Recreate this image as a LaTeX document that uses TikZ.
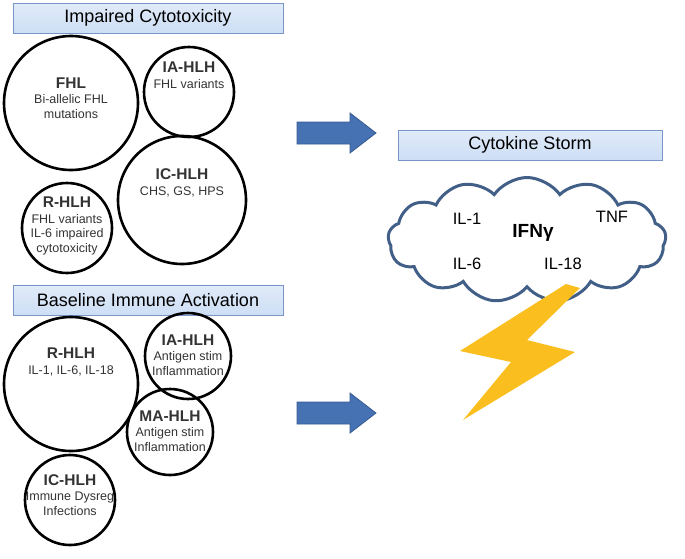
\documentclass[tikz,border=0pt]{standalone}
\usepackage{fontspec}
\setmainfont{Liberation Sans}
\usetikzlibrary{shapes.symbols}
\definecolor{boxfill}{RGB}{205,222,245}
\definecolor{boxdraw}{RGB}{120,150,200}
\definecolor{arrowblue}{RGB}{70,114,180}
\definecolor{cloudline}{RGB}{65,95,135}
\definecolor{bolt}{RGB}{250,190,30}
\tikzset{
 title/.style={draw=boxdraw,top color=boxfill!60!white,bottom color=boxfill,minimum height=30pt,font=\fontsize{18}{20}\selectfont,inner sep=0pt},
 circ/.style={circle,draw,line width=2.6pt,inner sep=0pt},
 lab/.style={align=center,font=\fontsize{12.5}{14.5}\selectfont,text=black!80},
 arr/.style={draw=arrowblue!80!black,fill=arrowblue,line width=0.8pt},
 ck/.style={font=\fontsize{16.5}{18}\selectfont},
}
\newcommand{\hd}[1]{{\fontsize{15.5}{18}\selectfont\bfseries #1}}
\begin{document}
\begin{tikzpicture}[x=1pt,y=-1pt]
\useasboundingbox (0,0) rectangle (685,558);
\node[title,minimum width=270pt] (t1) at (148,18) {Impaired Cytotoxicity};
\node[title,minimum width=270pt] (t2) at (148,300) {Baseline Immune Activation};
\node[title,minimum width=264pt] (t3) at (530,145) {Cytokine Storm};
% top circles
\node[circ,minimum size=134pt] (c1) at (71,103) {};
\node[lab] at (71,98) {\hd{FHL}\\[1pt]Bi-allelic FHL\\mutations};
\node[circ,minimum size=90pt] (c2) at (189,92) {};
\node[lab] at (189,75) {\hd{IA-HLH}\\[1pt]FHL variants};
\node[circ,minimum size=128pt] (c3) at (182,200) {};
\node[lab] at (182,183) {\hd{IC-HLH}\\[1pt]CHS, GS, HPS};
\node[circ,minimum size=90pt] (c4) at (67,228) {};
\node[lab] at (67,226) {\hd{R-HLH}\\[1pt]FHL variants\\IL-6 impaired\\cytotoxicity};
% bottom circles
\node[circ,minimum size=134pt] (d1) at (71,384) {};
\node[lab] at (71,362) {\hd{R-HLH}\\[1pt]IL-1, IL-6, IL-18};
\node[circ,minimum size=86pt] (d2) at (188,356) {};
\node[lab] at (188,355) {\hd{IA-HLH}\\[1pt]Antigen stim\\Inflammation};
\node[circ,minimum size=86pt] (d3) at (170,432) {};
\node[lab] at (170,431) {\hd{MA-HLH}\\[1pt]Antigen stim\\Inflammation};
\node[circ,minimum size=90pt] (d4) at (70,500) {};
\node[lab] at (70,495) {\hd{IC-HLH}\\[1pt]Immune Dysreg\\Infections};
% arrows
\draw[arr] (297,122) -- (350,122) -- (350,113) -- (376,133) -- (350,153) -- (350,144) -- (297,144) -- cycle;
\draw[arr] (297,402) -- (350,402) -- (350,393) -- (376,413) -- (350,433) -- (350,424) -- (297,424) -- cycle;
% cloud
\node[cloud,cloud puffs=13,cloud puff arc=110,aspect=2.3,draw=cloudline,line width=3pt,minimum width=278pt,minimum height=125pt] (cl) at (527,240) {};
\node[ck] (il1) at (467,219) {IL-1};
\node[ck] (tnf) at (612,217) {TNF};
\node[ck] (il6) at (467,264) {IL-6};
\node[ck] (il18) at (563,264) {IL-18};
\node[font=\fontsize{19}{21}\selectfont\bfseries] (ifn) at (533,233) {IFNγ};
% bolt
\fill[bolt] (566,284) -- (580,288) -- (527,340) -- (575,352) -- (463,420) -- (511,362) -- (460,351) -- cycle;
\end{tikzpicture}
\end{document}
